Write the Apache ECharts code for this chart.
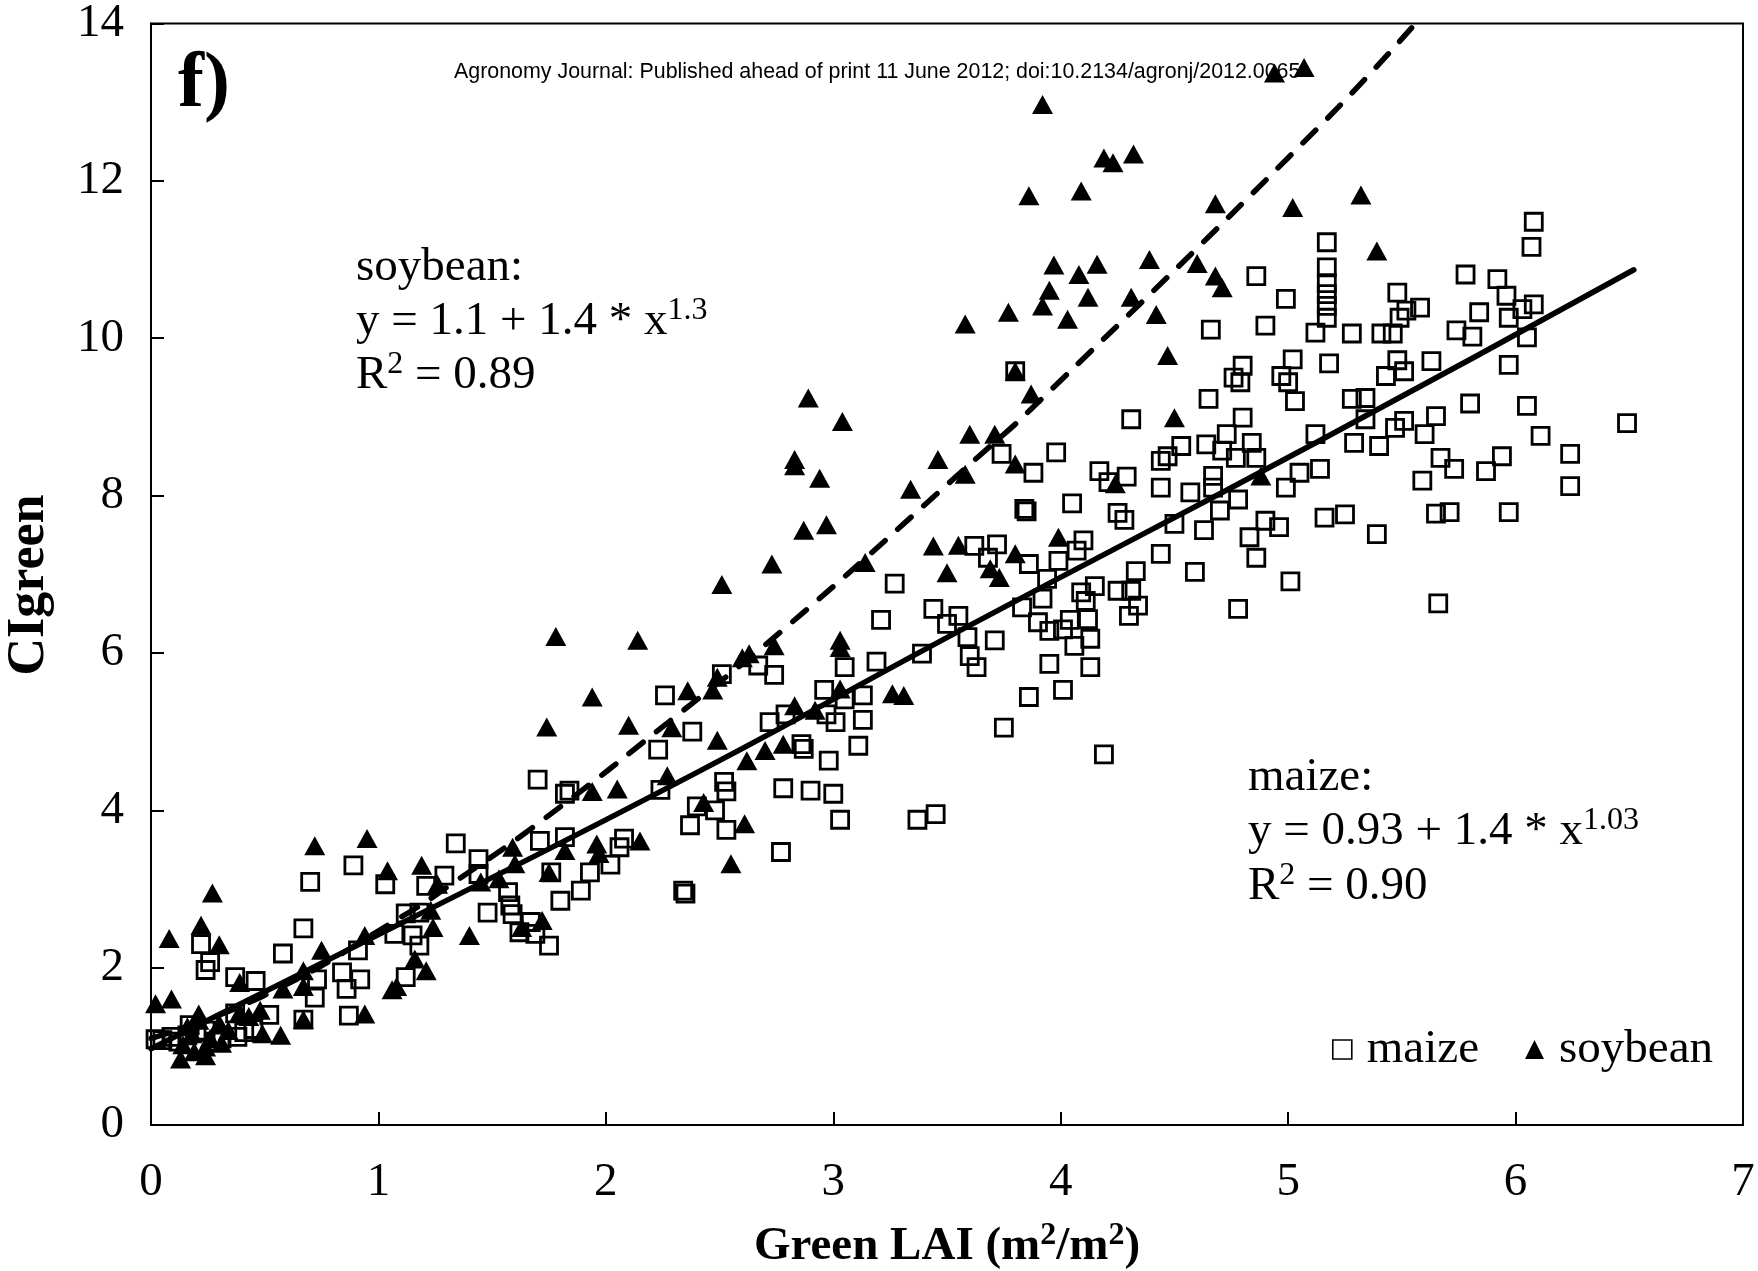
<!DOCTYPE html>
<html>
<head>
<meta charset="utf-8">
<script src="https://cdn.jsdelivr.net/npm/echarts@6/dist/echarts.min.js"></script>
<style>
html,body{margin:0;padding:0;background:#fff;}
#chart{width:1758px;height:1271px;}
</style>
</head>
<body>
<div id="chart"></div>
<script>
// ---------- DATA ----------
const xTicks = [0, 1, 2, 3, 4, 5, 6, 7];
const yTicks = [0, 2, 4, 6, 8, 10, 12, 14];

// maize observations [Green LAI, CIgreen]
const maizePoints = [
  [0.02,1.09],[0.05,1.08],[0.09,1.12],[0.12,1.06],[0.16,1.14],[0.17,1.27],[0.20,1.18],[0.24,1.20],[0.28,1.06],[0.31,1.10],
  [0.38,1.12],[0.41,1.18],[0.45,1.22],[0.37,1.42],[0.52,1.40],
  [0.22,2.30],[0.26,2.07],[0.24,1.97],[0.37,1.88],[0.46,1.83],[0.58,2.18],[0.67,2.50],[0.70,3.09],[0.89,3.30],[1.03,3.06],
  [1.21,3.04],[1.29,3.17],[1.34,3.58],[1.12,2.69],[1.18,2.70],[1.07,2.43],[1.15,2.41],[1.18,2.28],[0.91,2.22],[0.84,1.94],
  [0.92,1.85],[0.86,1.73],[0.73,1.85],[0.72,1.62],[1.12,1.88],[0.87,1.39],[0.67,1.34],
  [2.51,5.73],[2.26,5.46],[2.38,5.00],[2.23,4.77],[1.70,4.39],[1.84,4.25],[1.82,4.21],[2.24,4.26],[2.40,4.05],[2.52,4.36],
  [2.53,4.24],[2.48,4.00],[2.37,3.81],[2.53,3.75],[1.44,3.38],[1.44,3.19],[1.71,3.61],[1.82,3.66],[2.08,3.64],[2.06,3.53],
  [1.76,3.21],[1.93,3.21],[2.02,3.31],[1.89,2.98],[1.80,2.85],[2.34,2.98],[2.35,2.94],[1.57,2.96],[1.58,2.79],[1.48,2.70],
  [1.59,2.68],[1.62,2.45],[1.67,2.58],[1.69,2.43],[1.75,2.28],
  [3.27,6.88],[3.21,6.42],[3.44,6.56],[3.55,6.47],[3.50,6.37],[3.62,7.36],[3.39,5.99],[3.60,5.96],[3.63,5.82],[2.67,5.84],
  [2.74,5.72],[3.05,5.82],[3.19,5.89],[2.96,5.53],[3.05,5.41],[3.13,5.46],[2.72,5.12],[2.79,5.22],[2.97,5.22],[3.01,5.12],
  [3.13,5.15],[2.86,4.84],[2.87,4.78],[3.11,4.82],[2.98,4.63],[2.78,4.28],[2.90,4.25],[3.00,4.21],[3.03,3.88],[3.37,3.88],
  [3.45,3.95],[2.77,3.47],
  [3.80,9.58],[4.86,10.79],[4.99,10.50],[4.90,10.16],[4.66,10.11],[4.80,9.65],[4.76,9.50],[4.79,9.44],[5.02,9.73],[4.97,9.52],
  [5.00,9.44],[5.03,9.20],[4.65,9.23],[4.31,8.97],[4.80,8.99],[4.73,8.78],[4.53,8.63],[4.64,8.65],[4.84,8.67],[4.47,8.50],
  [3.98,8.55],[3.74,8.53],
  [3.88,8.29],[3.84,7.83],[3.85,7.80],[4.05,7.90],[4.17,8.31],[4.21,8.17],[4.29,8.24],[4.25,7.78],[4.28,7.69],[4.44,8.44],
  [4.44,8.10],[4.71,8.57],[4.77,8.48],[4.86,8.48],[4.57,8.04],[4.67,8.25],[4.67,8.10],[4.78,7.95],[4.70,7.81],[4.50,7.64],
  [4.63,7.56],[4.90,7.68],[4.96,7.60],[4.83,7.47],[4.86,7.21],[5.05,8.29],[4.99,8.10],[5.01,6.91],[4.78,6.56],[4.59,7.03],
  [4.44,7.26],[4.33,7.04],[4.15,6.85],[4.09,6.77],[4.25,6.79],[4.31,6.79],[4.34,6.60],[4.30,6.47],[4.11,6.66],[4.12,6.43],
  [4.13,6.18],[4.04,6.42],[4.01,6.30],[3.95,6.28],[3.90,6.39],[4.06,6.09],[4.13,5.82],[3.95,5.86],[4.01,5.53],[3.86,5.44],
  [3.75,5.05],[4.19,4.71],[3.71,6.16],[3.72,7.38],[3.68,7.21],[3.86,7.13],[3.99,7.17],[4.07,7.30],[4.10,7.43],[3.94,6.94],
  [3.92,6.69],[3.83,6.58],[3.59,6.20],
  [5.17,11.22],[5.17,10.90],[5.17,10.70],[5.17,10.56],[5.17,10.41],[5.17,10.26],
  [6.08,11.48],[6.07,11.16],[5.78,10.81],[5.92,10.75],[5.96,10.54],[6.08,10.43],[6.03,10.37],[5.97,10.26],[5.84,10.33],[5.74,10.10],
  [5.81,10.02],[6.05,10.01],[5.48,10.58],[5.58,10.39],[5.52,10.35],[5.49,10.26],[5.12,10.07],[5.28,10.06],[5.41,10.06],[5.46,10.06],
  [5.18,9.68],[5.48,9.72],[5.63,9.71],[5.51,9.58],[5.43,9.52],[5.97,9.66],[5.80,9.17],[6.05,9.14],[5.28,9.23],[5.34,9.24],
  [5.34,8.97],[5.65,9.01],[5.51,8.95],[5.47,8.86],[5.60,8.78],[6.11,8.76],[6.24,8.53],[5.94,8.50],[5.67,8.48],[5.40,8.63],
  [5.29,8.67],[5.12,8.78],
  [6.24,8.12],[5.87,8.31],[5.73,8.34],[5.59,8.19],[5.97,7.79],[5.65,7.77],[5.71,7.79],[5.25,7.76],[5.16,7.72],[5.39,7.51],
  [5.66,6.63],[5.14,8.34],[6.49,8.92]
];

// soybean observations [Green LAI, CIgreen]
const soybeanPoints = [
  [0.02,1.54],[0.09,1.60],[0.08,2.37],[0.22,2.54],[0.27,2.95],[0.30,2.29],[0.13,0.84],[0.24,0.88],[0.24,0.99],[0.18,1.16],
  [0.21,1.33],[0.31,1.04],[0.21,1.41],[0.30,1.29],[0.39,1.43],[0.48,1.46],[0.49,1.16],[0.57,1.14],[0.14,1.02],[0.19,0.93],
  [0.26,1.10],[0.34,1.20],[0.43,1.38],[0.16,1.25],
  [0.39,1.81],[0.58,1.73],[0.67,1.76],[0.67,1.96],[0.67,1.34],[0.75,2.22],[0.72,3.55],[0.95,3.64],[0.94,2.41],[0.94,1.41],
  [1.04,3.23],[1.19,3.30],[1.26,3.06],[1.24,2.51],[1.23,2.73],[1.16,2.11],[1.21,1.96],[1.06,1.72],[1.08,1.76],[1.40,2.41],
  [1.78,6.21],[2.14,6.16],[1.94,5.44],[1.74,5.06],[2.10,5.08],[2.36,5.52],[2.47,5.53],[2.49,5.69],[2.29,5.05],[2.49,4.89],
  [2.27,4.44],[1.94,4.24],[2.05,4.27],[1.96,3.57],[2.15,3.61],[1.82,3.49],[1.75,3.21],[1.97,3.45],[1.59,3.53],[1.60,3.32],
  [1.53,3.13],[1.45,3.09],[2.55,3.32],[2.43,4.10],[1.72,2.60],[1.63,2.51],
  [2.89,9.24],[3.04,8.94],[2.83,8.46],[2.83,8.38],[2.94,8.22],[2.87,7.56],[2.97,7.63],[2.73,7.13],[2.51,6.87],[3.14,7.15],
  [3.46,8.46],[3.34,8.08],[3.58,8.27],[3.60,8.78],[3.44,7.36],[3.55,7.37],[3.50,7.02],[2.74,6.09],[2.63,5.99],[2.60,5.94],
  [3.03,6.16],[3.03,6.07],[3.03,5.54],[3.26,5.48],[3.31,5.46],[2.83,5.33],[2.92,5.27],[2.78,4.84],[2.70,4.76],[2.62,4.63],
  [2.61,3.83],
  [5.07,13.44],[4.94,13.37],[3.92,12.97],[4.19,12.29],[4.23,12.23],[4.32,12.34],[3.86,11.81],[4.09,11.87],[4.68,11.71],[5.02,11.66],
  [3.97,10.93],[4.16,10.94],[4.08,10.81],[4.39,11.00],[4.60,10.95],[4.68,10.79],[4.71,10.64],[3.95,10.61],[3.92,10.41],[4.12,10.52],
  [4.31,10.52],[3.77,10.33],[3.58,10.18],[4.03,10.24],[4.42,10.30],[4.47,9.78],[3.80,9.58],[3.87,9.29],[4.50,8.99],[3.71,8.78],
  [3.80,8.40],[4.24,8.15],[4.88,8.25],[3.99,7.47],[3.80,7.26],[3.69,7.07],[3.73,6.96],
  [5.32,11.82],[5.39,11.11]
];

// fitted curves, points
const maizeFit = [[0,0.97],[1.27,2.81],[2.42,4.51],[3.6,6.35],[5.14,8.70],[6.52,10.87]];
const soybeanFit = [[0,1.10],[0.5,1.65],[1.11,2.66],[1.32,3.06],[1.71,3.85],[2.31,5.20],[2.81,6.37],[3.64,8.50],[3.87,9.10],[5.13,12.67],[5.56,14.0]];

// ---------- CHART ----------
const SERIF = '"Liberation Serif","Times New Roman",serif';
const SANS = '"Liberation Sans",Arial,sans-serif';
const FS = 47;

const chart = echarts.init(document.getElementById('chart'), null, {renderer:'canvas'});

function richStyles(bold, size){
  const w = bold ? 'bold' : 'normal';
  const f = size || FS;
  return {
    n: {fontSize: f, fontFamily: SERIF, fontWeight: w, color:'#000', lineHeight: Math.round(f*1.15)},
    s: {fontSize: 32, fontFamily: SERIF, fontWeight: w, color:'#000', lineHeight: 36, verticalAlign:'top'}
  };
}
function txt(x, y, text, opts){
  opts = opts || {};
  return {
    type:'text', x:x, y:y, silent:true, z:100, rotation: opts.rotation || 0,
    style:{
      text:text, rich: richStyles(opts.bold, opts.size),
      align: opts.align || 'left', verticalAlign:'middle', fill:'#000'
    }
  };
}

const option = {
  animation:false,
  backgroundColor:'#fff',
  grid:{left:151, right:15, top:21, bottom:146, show:true, borderColor:'#000', borderWidth:2},
  xAxis:{
    type:'value', min:xTicks[0], max:xTicks[xTicks.length-1], interval:1,
    axisLine:{show:true, onZero:false, lineStyle:{color:'#000', width:2}},
    axisTick:{show:true, inside:true, length:13, lineStyle:{color:'#000', width:2}},
    axisLabel:{margin:34, fontSize:47, fontFamily:SERIF, color:'#000', showMinLabel:true, showMaxLabel:true},
    splitLine:{show:false}
  },
  yAxis:{
    type:'value', min:yTicks[0], max:yTicks[yTicks.length-1], interval:2,
    axisLine:{show:true, onZero:false, lineStyle:{color:'#000', width:2}},
    axisTick:{show:true, inside:true, length:13, lineStyle:{color:'#000', width:2}},
    axisLabel:{margin:27, fontSize:47, fontFamily:SERIF, color:'#000', showMinLabel:true, showMaxLabel:true},
    splitLine:{show:false}
  },
  legend:{
    data:[
      {name:'maize', icon:'rect', itemStyle:{color:'rgba(0,0,0,0)', borderColor:'#000', borderWidth:1.6, opacity:1}},
      {name:'soybean', icon:'triangle', itemStyle:{color:'#000', borderWidth:0, opacity:1}}
    ],
    right:40, top:1021, itemWidth:19, itemHeight:19, itemGap:46, selectedMode:false,
    textStyle:{fontSize:FS, fontFamily:SERIF, color:'#000', padding:[22,0,0,10]}
  },
  graphic:[
    txt(178, 86, '{n|f)}', {bold:true, size:78}),
    {type:'text', x:454, y:72, silent:true, z:100,
     style:{text:'Agronomy Journal: Published ahead of print 11 June 2012; doi:10.2134/agronj/2012.0065',
            font:'21.4px ' + SANS, fill:'#000', align:'left', verticalAlign:'middle'}},
    txt(356, 268, '{n|soybean:}'),
    txt(356, 322, '{n|y = 1.1 + 1.4 * x}{s|1.3}'),
    txt(356, 376, '{n|R}{s|2}{n| = 0.89}'),
    txt(1248, 778, '{n|maize:}'),
    txt(1248, 832, '{n|y = 0.93 + 1.4 * x}{s|1.03}'),
    txt(1248, 887, '{n|R}{s|2}{n| = 0.90}'),
    txt(947, 1247, '{n|Green LAI (m}{s|2}{n|/m}{s|2}{n|)}', {bold:true, align:'center'}),
    txt(30, 585, '{n|CIgreen}', {bold:true, align:'center', rotation:Math.PI/2, size:52})
  ],
  series:[
    {name:'maize', type:'scatter', data:maizePoints, symbol:'rect', symbolSize:17, z:2,
     itemStyle:{color:'rgba(0,0,0,0)', borderColor:'#000', borderWidth:2.8, opacity:1}},
    {name:'soybean', type:'scatter', data:soybeanPoints, symbol:'triangle', symbolSize:[21,19], z:3,
     itemStyle:{color:'#000', opacity:1}},
    {name:'maize fit', type:'line', data:maizeFit, smooth:true, showSymbol:false, silent:true, z:4,
     lineStyle:{color:'#000', width:5.5, cap:'round', opacity:1}},
    {name:'soybean fit', type:'line', data:soybeanFit, smooth:true, showSymbol:false, silent:true, z:4,
     lineStyle:{color:'#000', width:5.5, type:[18,17], cap:'round', opacity:1}}
  ]
};
chart.setOption(option);
</script>
</body>
</html>
